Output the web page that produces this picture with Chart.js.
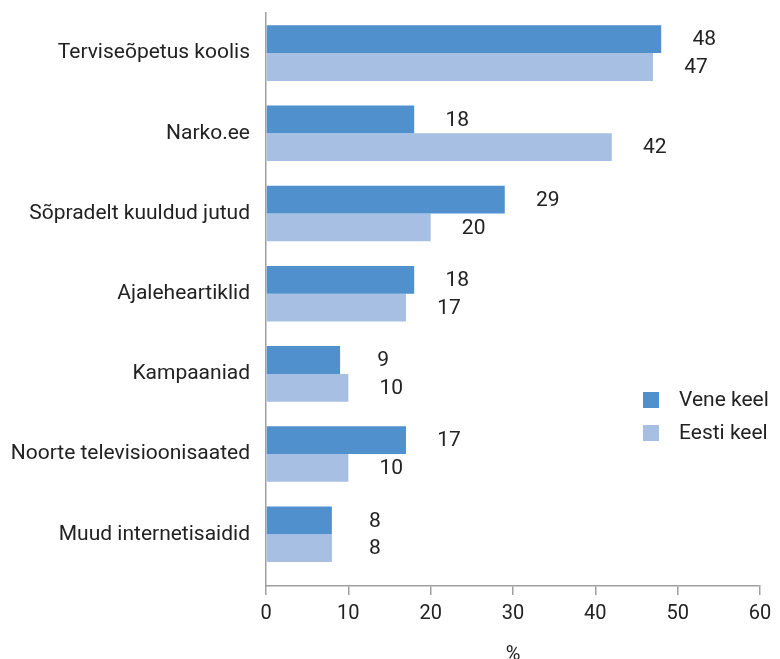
<!DOCTYPE html>
<html>
<head>
<meta charset="utf-8">
<script src="https://cdn.jsdelivr.net/npm/chart.js@4.4.1/dist/chart.umd.min.js"></script>
<style>
  html, body { margin: 0; padding: 0; background: #fff; }
  #wrap { width: 780px; height: 659px; position: relative; }
</style>
</head>
<body>
<div id="wrap"><canvas id="c" width="780" height="659"></canvas></div>
<script>
const categories = [
  "Terviseõpetus koolis",
  "Narko.ee",
  "Sõpradelt kuuldud jutud",
  "Ajaleheartiklid",
  "Kampaaniad",
  "Noorte televisioonisaated",
  "Muud internetisaidid"
];
const veneKeel = [48, 18, 29, 18, 9, 17, 8];
const eestiKeel = [47, 42, 20, 17, 10, 10, 8];
const seriesNames = ["Vene keel", "Eesti keel"];
const xTicks = [0, 10, 20, 30, 40, 50, 60];

const DARK = "#4F90CD";
const LIGHT = "#A6BFE3";
const TEXT = "#222222";
const AXIS = "#a0a0a0";
const FONT = "Roboto, 'Liberation Sans', sans-serif";

const toPoints = arr => arr.map((v, i) => ({ x: v, y: i }));

const valueLabels = {
  id: "valueLabels",
  afterDatasetsDraw(chart) {
    const ctx = chart.ctx;
    ctx.save();
    ctx.font = "21px " + FONT;
    ctx.fillStyle = TEXT;
    ctx.textAlign = "center";
    ctx.textBaseline = "middle";
    chart.data.datasets.forEach((ds, di) => {
      const meta = chart.getDatasetMeta(di);
      meta.data.forEach((el, i) => {
        ctx.fillText(String(ds.data[i].x), el.x + 43, el.y + 1);
      });
    });
    ctx.restore();
  }
};

const customLegend = {
  id: "customLegend",
  afterDraw(chart) {
    const ctx = chart.ctx;
    ctx.save();
    ctx.font = "21px " + FONT;
    ctx.textAlign = "left";
    ctx.textBaseline = "middle";
    chart.data.datasets.forEach((ds, i) => {
      const y = 400 + i * 33;
      ctx.fillStyle = ds.backgroundColor;
      ctx.fillRect(643, y - 8, 16, 16);
      ctx.fillStyle = TEXT;
      ctx.fillText(ds.label, 679, y + 1);
    });
    ctx.restore();
  }
};

new Chart(document.getElementById("c"), {
  type: "bar",
  data: {
    datasets: [
      { label: seriesNames[0], data: toPoints(veneKeel), backgroundColor: DARK },
      { label: seriesNames[1], data: toPoints(eestiKeel), backgroundColor: LIGHT }
    ]
  },
  options: {
    indexAxis: "y",
    responsive: false,
    animation: false,
    devicePixelRatio: 1,
    layout: { padding: { top: 13, right: 20, left: 0, bottom: 0 } },
    datasets: { bar: { categoryPercentage: 0.693, barPercentage: 1.0, borderWidth: 0 } },
    plugins: { legend: { display: false }, tooltip: { enabled: false } },
    scales: {
      x: {
        type: "linear",
        min: 0, max: 60,
        afterBuildTicks: s => { s.ticks = xTicks.map(v => ({ value: v })); },
        afterFit: s => { s.height = 73; s.paddingLeft = 0; s.paddingRight = 0; },
        grid: { drawOnChartArea: false, drawTicks: true, tickLength: 9, color: AXIS, lineWidth: 1.5 },
        border: { display: true, color: AXIS, width: 1.5 },
        ticks: { color: TEXT, font: { family: FONT, size: 20 }, padding: 7 },
        title: { display: true, text: "%", color: TEXT, font: { family: FONT, size: 20, lineHeight: 0.4 }, padding: 0 }
      },
      y: {
        type: "linear",
        reverse: true,
        offset: false,
        grace: 0,
        min: -0.5, max: 6.645,
        afterBuildTicks: s => { s.ticks = categories.map((c, i) => ({ value: i })); },
        afterFit: s => { s.width = 266; s.paddingTop = 0; s.paddingBottom = 0; },
        grid: { display: true, offset: false, drawOnChartArea: false, drawTicks: false },
        border: { display: true, color: AXIS, width: 1.5 },
        ticks: {
          color: TEXT,
          font: { family: FONT, size: 21 },
          padding: 16,
          callback: v => categories[v] !== undefined ? categories[v] : ""
        }
      }
    }
  },
  plugins: [valueLabels, customLegend]
});
</script>
</body>
</html>
